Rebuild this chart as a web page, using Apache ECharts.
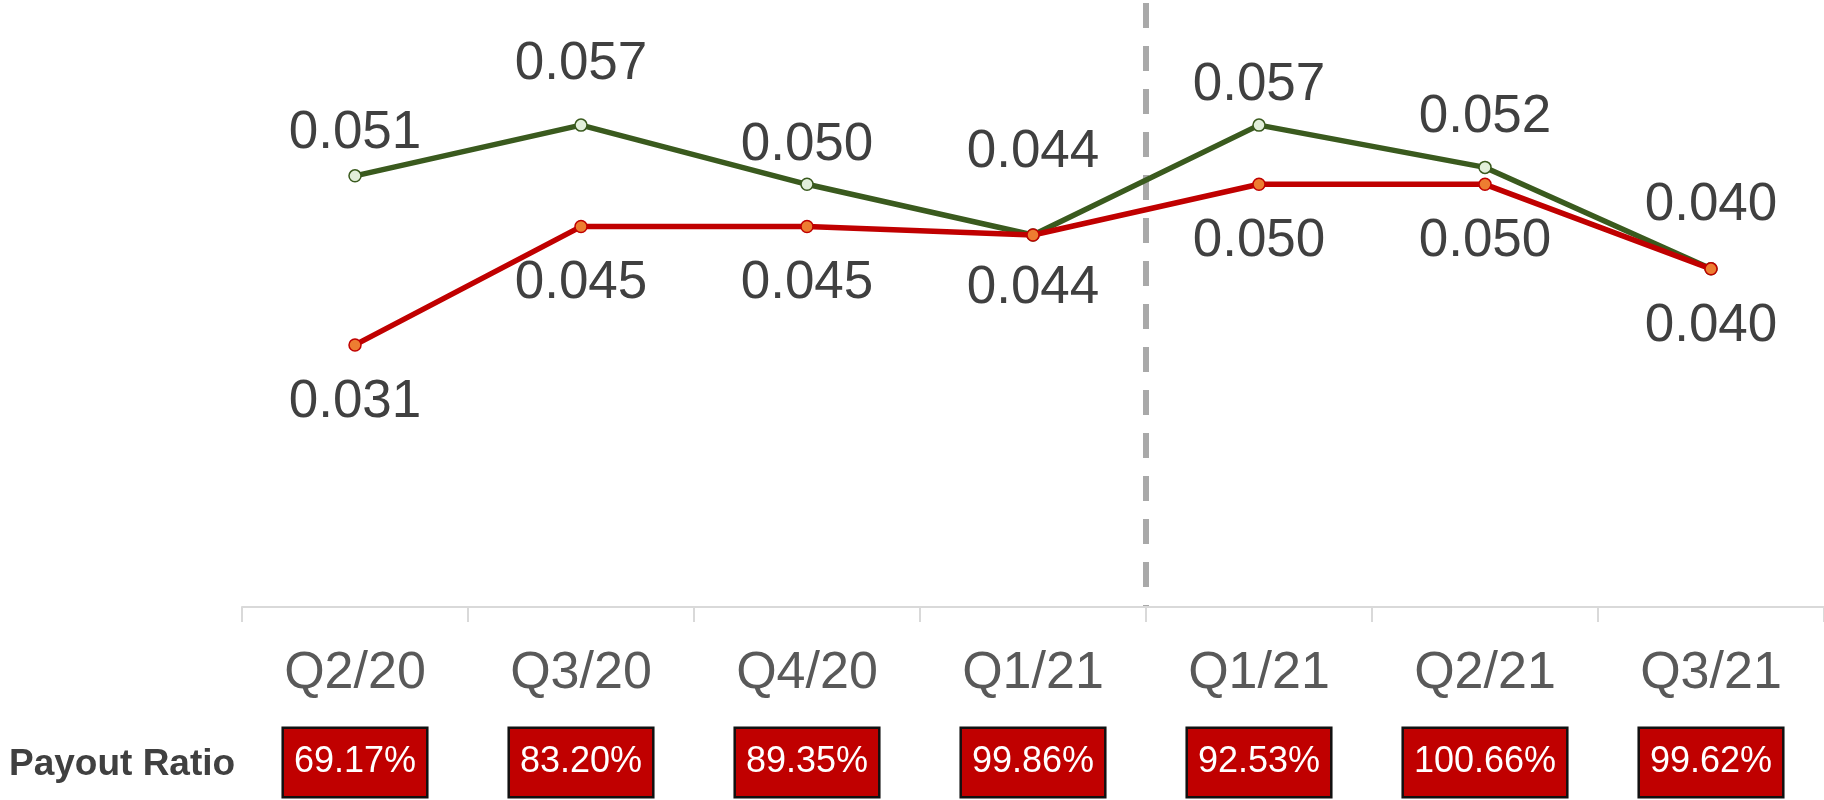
<!DOCTYPE html>
<html>
<head>
<meta charset="utf-8">
<script src="https://cdn.jsdelivr.net/npm/echarts@6/dist/echarts.min.js"></script>
<style>
  html, body { margin: 0; padding: 0; background: #fff; }
  #chart { width: 1824px; height: 800px; }
</style>
</head>
<body>
<div id="chart"></div>
<script>
// datos
const categories = ['Q2/20', 'Q3/20', 'Q4/20', 'Q1/21', 'Q1/21', 'Q2/21', 'Q3/21'];
const greenValues = [0.051, 0.057, 0.050, 0.044, 0.057, 0.052, 0.040];
const redValues = [0.031, 0.045, 0.045, 0.044, 0.050, 0.050, 0.040];
const payoutRatio = [69.17, 83.20, 89.35, 99.86, 92.53, 100.66, 99.62];

// separación de etiquetas (estilo)
const greenLabelGap = [9, 27, 6, 49, 6, 17, 30];
const redLabelGap = [24, 24, 24, 20, 24, 24, 24];

const FONT = 'Liberation Sans, Arial, sans-serif';

const chart = echarts.init(document.getElementById('chart'));

chart.setOption({
    animation: false,
    textStyle: { fontFamily: FONT },
    title: {
        text: 'Payout Ratio',
        left: 9, top: 746, padding: 0,
        textStyle: { fontSize: 37, fontWeight: 'bold', color: '#404040', fontFamily: FONT }
    },
    grid: { left: 242, right: 0, top: 0, bottom: 193 },
    xAxis: [{
        type: 'category',
        data: categories,
        boundaryGap: true,
        axisLine: { show: true, lineStyle: { color: '#d9d9d9', width: 2 } },
        axisTick: { show: true, interval: 0, length: 15, lineStyle: { color: '#d9d9d9', width: 2 } },
        axisLabel: { margin: 41, fontSize: 52, color: '#595959', fontFamily: FONT },
        splitLine: {
            show: true,
            interval: 3,
            showMinLine: false,
            showMaxLine: false,
            lineStyle: { color: '#a9a9a9', width: 6, type: [25, 18], dashOffset: -3 }
        }
    }, {
        type: 'category',
        data: payoutRatio,
        position: 'bottom',
        axisLine: { show: false },
        axisTick: { show: false },
        axisLabel: {
            margin: 122,
            fontSize: 36,
            lineHeight: 43,
            color: '#fff',
            fontFamily: FONT,
            backgroundColor: '#c00000',
            borderColor: '#111',
            borderWidth: 2.5,
            padding: [12, 10],
            formatter: (v) => Number(v).toFixed(2) + '%'
        }
    }],
    yAxis: { type: 'value', min: 0, max: 607 / 8454, show: false },
    series: [{
        type: 'line',
        data: greenValues.map((v, i) => ({ value: v, label: { distance: greenLabelGap[i] } })),
        symbol: 'circle',
        symbolSize: 12,
        lineStyle: { color: '#3a5a1e', width: 5.5 },
        itemStyle: { color: '#e2efda', borderColor: '#3a5a1e', borderWidth: 1.5 },
        label: {
            show: true, position: 'top', fontSize: 53, color: '#404040', fontFamily: FONT,
            formatter: (p) => p.value.toFixed(3)
        },
        z: 2
    }, {
        type: 'line',
        data: redValues.map((v, i) => ({ value: v, label: { distance: redLabelGap[i] } })),
        symbol: 'circle',
        symbolSize: 12,
        lineStyle: { color: '#c00000', width: 5.5 },
        itemStyle: { color: '#ed7d31', borderColor: '#c00000', borderWidth: 1.5 },
        label: {
            show: true, position: 'bottom', fontSize: 53, color: '#404040', fontFamily: FONT,
            formatter: (p) => p.value.toFixed(3)
        },
        z: 3
    }]
});
</script>
</body>
</html>
